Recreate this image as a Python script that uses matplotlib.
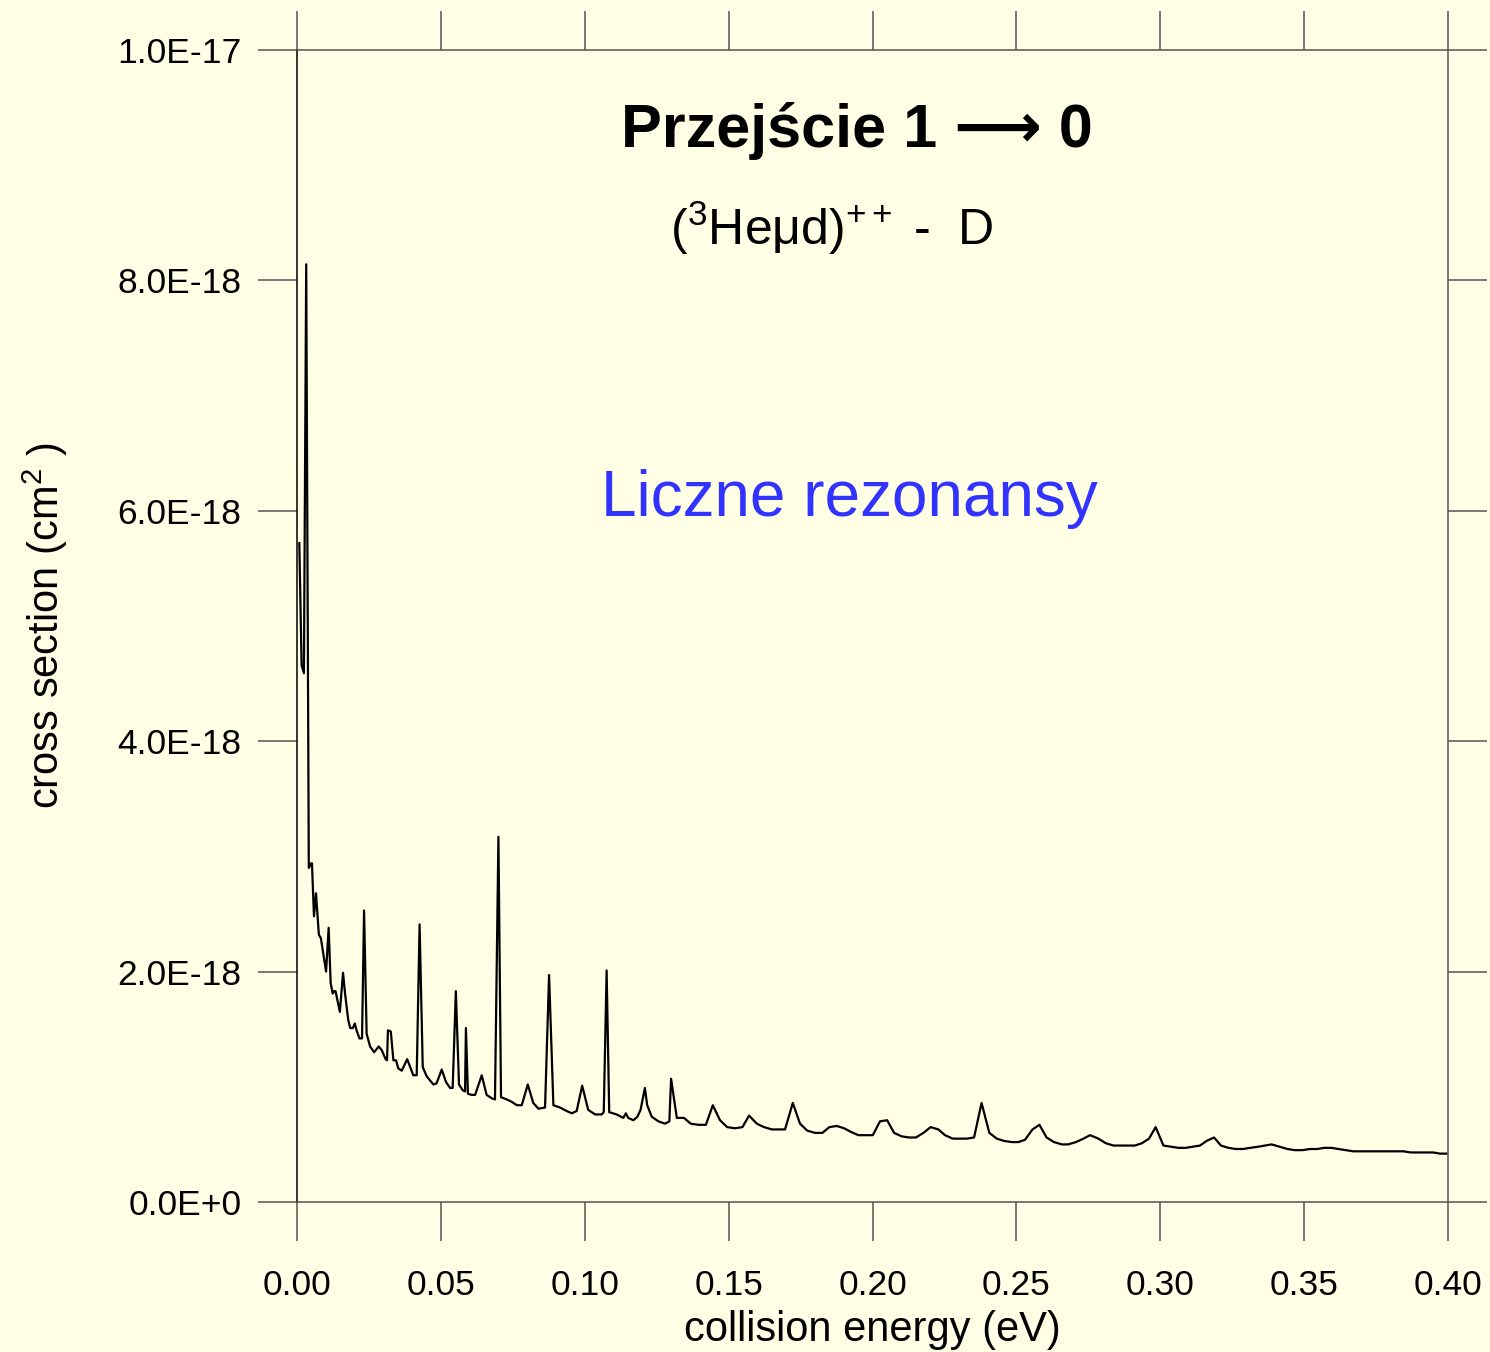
import numpy as np
import matplotlib
matplotlib.use('Agg')
import matplotlib.pyplot as plt

plt.rcParams['font.family'] = ['Liberation Sans', 'DejaVu Sans']
plt.rcParams['mathtext.fontset'] = 'custom'
plt.rcParams['mathtext.rm'] = 'Liberation Sans'
plt.rcParams['mathtext.it'] = 'Liberation Sans:italic'
plt.rcParams['mathtext.bf'] = 'Liberation Sans:bold'

# collision energy (eV) and cross section (units of 1e-18 cm^2)
energy = [
    0.0008, 0.0016, 0.0024, 0.0032, 0.0041, 0.0049, 0.0052, 0.0059, 0.0066, 0.0076,
    0.0083, 0.0101, 0.0110, 0.0117, 0.0124, 0.0129, 0.0134, 0.0149, 0.0160, 0.0167,
    0.0178, 0.0185, 0.0194, 0.0201, 0.0207, 0.0217, 0.0226, 0.0233, 0.0242, 0.0254,
    0.0268, 0.0284, 0.0294, 0.0308, 0.0313, 0.0316, 0.0326, 0.0335, 0.0344, 0.0352,
    0.0364, 0.0383, 0.0404, 0.0416, 0.0426, 0.0437, 0.0451, 0.0474, 0.0485, 0.0503,
    0.0518, 0.0532, 0.0541, 0.0552, 0.0563, 0.0576, 0.0584, 0.0587, 0.0594, 0.0607,
    0.0619, 0.0642, 0.0659, 0.0677, 0.0688, 0.0700, 0.0709, 0.0729, 0.0746, 0.0764,
    0.0781, 0.0802, 0.0821, 0.0839, 0.0862, 0.0876, 0.0891, 0.0914, 0.0937, 0.0955,
    0.0972, 0.0991, 0.1012, 0.1036, 0.1059, 0.1066, 0.1076, 0.1085, 0.1111, 0.1134,
    0.1143, 0.1151, 0.1169, 0.1183, 0.1194, 0.1209, 0.1217, 0.1233, 0.1256, 0.1279,
    0.1294, 0.1300, 0.1320, 0.1345, 0.1368, 0.1395, 0.1421, 0.1445, 0.1470, 0.1495,
    0.1522, 0.1548, 0.1571, 0.1598, 0.1623, 0.1650, 0.1673, 0.1696, 0.1723, 0.1748,
    0.1773, 0.1800, 0.1826, 0.1850, 0.1876, 0.1901, 0.1924, 0.1951, 0.1976, 0.2001,
    0.2026, 0.2051, 0.2075, 0.2101, 0.2127, 0.2151, 0.2177, 0.2202, 0.2229, 0.2252,
    0.2279, 0.2304, 0.2327, 0.2353, 0.2379, 0.2406, 0.2432, 0.2457, 0.2484, 0.2507,
    0.2530, 0.2556, 0.2580, 0.2605, 0.2631, 0.2658, 0.2680, 0.2707, 0.2733, 0.2756,
    0.2785, 0.2811, 0.2837, 0.2863, 0.2887, 0.2912, 0.2936, 0.2961, 0.2984, 0.3011,
    0.3036, 0.3063, 0.3088, 0.3113, 0.3138, 0.3161, 0.3187, 0.3211, 0.3237, 0.3262,
    0.3288, 0.3312, 0.3341, 0.3364, 0.3387, 0.3414, 0.3442, 0.3468, 0.3494, 0.3520,
    0.3546, 0.3569, 0.3596, 0.3619, 0.3646, 0.3671, 0.3697, 0.3723, 0.3746, 0.3769,
    0.3795, 0.3822, 0.3845, 0.3871, 0.3897, 0.3926, 0.3949, 0.3972, 0.3995,
]
sigma = [
    5.72, 4.66, 4.59, 8.14, 2.90, 2.94, 2.94, 2.48, 2.68, 2.32,
    2.29, 2.00, 2.38, 1.90, 1.81, 1.83, 1.83, 1.65, 1.99, 1.81,
    1.58, 1.51, 1.51, 1.55, 1.49, 1.42, 1.42, 2.53, 1.46, 1.35,
    1.30, 1.35, 1.32, 1.24, 1.23, 1.49, 1.48, 1.23, 1.23, 1.16,
    1.14, 1.24, 1.10, 1.10, 2.41, 1.17, 1.09, 1.02, 1.03, 1.15,
    1.04, 0.99, 0.99, 1.83, 1.02, 0.97, 0.96, 1.51, 0.94, 0.93,
    0.93, 1.10, 0.93, 0.90, 0.89, 3.17, 0.91, 0.89, 0.87, 0.84,
    0.84, 1.02, 0.86, 0.81, 0.82, 1.97, 0.84, 0.82, 0.79, 0.77,
    0.79, 1.01, 0.80, 0.76, 0.76, 0.78, 2.01, 0.78, 0.76, 0.73,
    0.77, 0.73, 0.71, 0.74, 0.80, 0.99, 0.84, 0.74, 0.70, 0.68,
    0.70, 1.07, 0.73, 0.73, 0.68, 0.67, 0.67, 0.84, 0.71, 0.65,
    0.64, 0.65, 0.75, 0.68, 0.65, 0.63, 0.63, 0.63, 0.86, 0.68,
    0.62, 0.60, 0.60, 0.65, 0.66, 0.64, 0.61, 0.58, 0.58, 0.58,
    0.70, 0.71, 0.60, 0.57, 0.56, 0.56, 0.60, 0.65, 0.63, 0.58,
    0.55, 0.55, 0.55, 0.56, 0.86, 0.60, 0.55, 0.53, 0.52, 0.52,
    0.54, 0.63, 0.67, 0.56, 0.52, 0.50, 0.50, 0.52, 0.55, 0.58,
    0.55, 0.51, 0.49, 0.49, 0.49, 0.49, 0.51, 0.55, 0.65, 0.49,
    0.48, 0.47, 0.47, 0.48, 0.49, 0.53, 0.56, 0.49, 0.47, 0.46,
    0.46, 0.47, 0.48, 0.49, 0.50, 0.48, 0.46, 0.45, 0.45, 0.46,
    0.46, 0.47, 0.47, 0.46, 0.45, 0.44, 0.44, 0.44, 0.44, 0.44,
    0.44, 0.44, 0.44, 0.43, 0.43, 0.43, 0.43, 0.42, 0.42,
]

x_ticks = [0.00, 0.05, 0.10, 0.15, 0.20, 0.25, 0.30, 0.35, 0.40]
x_labels = ['0.00', '0.05', '0.10', '0.15', '0.20', '0.25', '0.30', '0.35', '0.40']
y_ticks = [0.0, 2e-18, 4e-18, 6e-18, 8e-18, 1e-17]
y_labels = ['0.0E+0', '2.0E-18', '4.0E-18', '6.0E-18', '8.0E-18', '1.0E-17']

bg = '#FFFFE5'
grey = '#555555'

fig = plt.figure(figsize=(14.9, 13.52), dpi=100, facecolor=bg)
ax = fig.add_axes([297 / 1490, 1 - 1202 / 1352, 1151 / 1490, 1152 / 1352])
ax.set_facecolor(bg)

ax.plot(energy, np.array(sigma) * 1e-18, color='black', lw=1.6)

ax.set_xlim(0, 0.40)
ax.set_ylim(0, 1e-17)
ax.set_xticks(x_ticks)
ax.set_xticklabels(x_labels)
ax.set_yticks(y_ticks)
ax.set_yticklabels(y_labels)

ax.tick_params(axis='both', which='major', direction='out', length=28, width=1.1,
               color=grey, labelsize=25.5, top=True, right=True,
               labeltop=False, labelright=False)
ax.tick_params(axis='x', pad=20)
ax.tick_params(axis='y', pad=12)

for side in ['top', 'right', 'bottom']:
    ax.spines[side].set_color(grey)
    ax.spines[side].set_linewidth(1.1)
ax.spines['left'].set_color('black')
ax.spines['left'].set_linewidth(1.1)

ax.set_xlabel('collision energy (eV)', fontsize=30, labelpad=6)
ax.set_ylabel('cross section (cm$^2$ )', fontsize=30, labelpad=34)

# title pieces: bold text, thin long arrow, bold digit
ax.text(0.4865, 0.9158, 'Przejście 1 ⟶ 0', transform=ax.transAxes,
        ha='center', va='baseline', fontsize=44, fontweight='bold')
ax.text(0.4648, 0.8307, '($^3$Heμd)$^{++}$ -  D', transform=ax.transAxes,
        ha='center', va='baseline', fontsize=36)
ax.text(0.4796, 0.5955, 'Liczne rezonansy', transform=ax.transAxes,
        ha='center', va='baseline', fontsize=46, color='#3333FF')

fig.savefig('out.png', dpi=100, facecolor=bg)
